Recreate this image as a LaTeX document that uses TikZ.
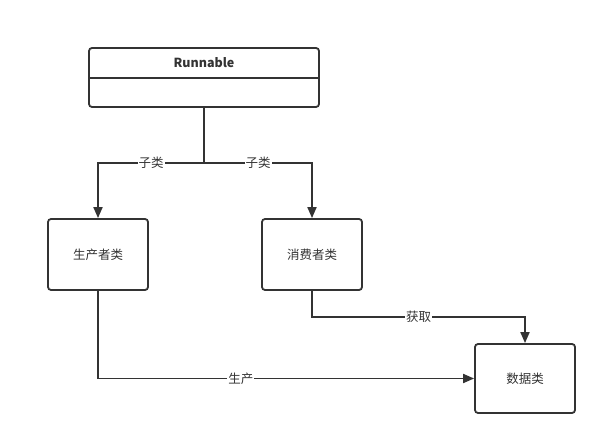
\documentclass[tikz,border=0pt]{standalone}
\usepackage{fontspec}
\setmainfont{Noto Sans CJK SC}
\usetikzlibrary{arrows.meta}
\definecolor{ink}{HTML}{333333}
\begin{document}
\begin{tikzpicture}[x=1pt,y=-1pt,
  font=\fontsize{12.5}{14}\selectfont,
  box/.style={draw=ink, line width=1.8pt, rounded corners=3pt, fill=white, text=ink, inner sep=0pt},
  conn/.style={draw=ink, line width=1.8pt, -{Triangle[length=11pt,width=9pt]}},
  lbl/.style={fill=white, text=ink, inner sep=1pt}]
\useasboundingbox (0,0) rectangle (607,446);
\node[box, minimum width=230pt, minimum height=59pt] (run) at (204,77.5) {};
\node[text=ink, font=\fontsize{12.5}{14}\selectfont\bfseries] (runt) at (204,63) {Runnable};
\draw[ink, line width=1.8pt] (run.west |- 0,78) -- (run.east |- 0,78);
\node[box, minimum width=100pt, minimum height=71pt] (prod) at (98,254.5) {生产者类};
\node[box, minimum width=100pt, minimum height=71pt] (cons) at (312,254.5) {消费者类};
\node[box, minimum width=100pt, minimum height=69pt] (data) at (525,378.5) {数据类};
\coordinate (j) at (204,163);
\coordinate (k) at (525,317);
\draw[conn] (run.south) -- (j) -| node[lbl, pos=0.25] {子类} (prod.north);
\draw[conn] (run.south) -- (j) -| node[lbl, pos=0.25] {子类} (cons.north);
\draw[conn] (cons.south) |- node[lbl, pos=0.75] {获取} (k) -- (data.north);
\draw[conn] (prod.south) |- node[lbl, pos=0.69] {生产} (data.west);
\end{tikzpicture}
\end{document}
